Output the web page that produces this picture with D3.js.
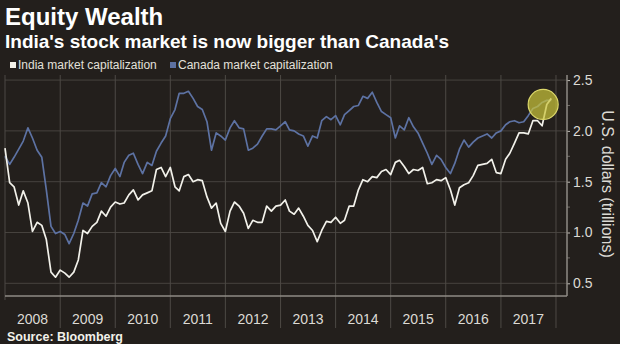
<!DOCTYPE html>
<html>
<head>
<meta charset="utf-8">
<script src="https://cdn.jsdelivr.net/npm/d3@7"></script>
<style>
  body { margin: 0; background: #231f1c; }
  svg { display: block; font-family: "Liberation Sans", Arial, sans-serif; }
</style>
</head>
<body>
<svg id="chart" width="620" height="344"></svg>
<script>
// monthly market cap, trillions of US dollars, Jan 2008 - Dec 2017
var years = [2008, 2009, 2010, 2011, 2012, 2013, 2014, 2015, 2016, 2017];
var india = [
  1.83, 1.49, 1.45, 1.27, 1.41, 1.29, 1.01, 1.10, 1.07, 0.93, 0.61, 0.56,
  0.63, 0.60, 0.56, 0.61, 0.73, 1.02, 0.99, 1.06, 1.10, 1.21, 1.16, 1.25,
  1.30, 1.28, 1.29, 1.37, 1.42, 1.32, 1.37, 1.39, 1.41, 1.62, 1.64, 1.55,
  1.64, 1.45, 1.41, 1.55, 1.57, 1.50, 1.52, 1.51, 1.35, 1.24, 1.29, 1.09,
  1.01, 1.21, 1.30, 1.26, 1.19, 1.04, 1.12, 1.10, 1.10, 1.26, 1.21, 1.26,
  1.27, 1.32, 1.21, 1.18, 1.24, 1.16, 1.07, 1.02, 0.91, 1.02, 1.11, 1.10,
  1.15, 1.09, 1.12, 1.26, 1.26, 1.42, 1.52, 1.50, 1.55, 1.54, 1.60, 1.62,
  1.57, 1.69, 1.71, 1.65, 1.58, 1.62, 1.61, 1.64, 1.48, 1.49, 1.52, 1.51,
  1.54, 1.42, 1.27, 1.44, 1.47, 1.49, 1.56, 1.66, 1.67, 1.68, 1.72, 1.59,
  1.58, 1.72, 1.78, 1.88, 1.98, 1.98, 1.97, 2.10, 2.10, 2.05, 2.26, 2.32
];
var canada = [
  1.75, 1.67, 1.74, 1.82, 1.90, 2.03, 1.93, 1.81, 1.74, 1.42, 1.06, 0.99,
  1.01, 0.98, 0.89, 0.99, 1.12, 1.29, 1.26, 1.38, 1.39, 1.49, 1.45, 1.56,
  1.63, 1.55, 1.69, 1.76, 1.78, 1.67, 1.58, 1.69, 1.66, 1.80, 1.88, 1.95,
  2.12, 2.21, 2.37, 2.37, 2.39, 2.32, 2.24, 2.21, 2.09, 1.81, 1.98, 1.95,
  1.91, 2.03, 2.10, 2.03, 2.02, 1.81, 1.83, 1.87, 1.95, 2.02, 2.02, 2.01,
  2.05, 2.09, 2.01, 2.00, 1.97, 1.95, 1.85, 1.95, 1.93, 2.10, 2.14, 2.11,
  2.15, 2.06, 2.16, 2.20, 2.24, 2.25, 2.34, 2.32, 2.38, 2.28, 2.19, 2.16,
  2.13, 1.93, 2.05, 2.01, 2.13, 2.04, 1.98, 1.88, 1.78, 1.67, 1.76, 1.72,
  1.64, 1.58, 1.68, 1.82, 1.91, 1.84, 1.89, 1.93, 1.95, 1.97, 1.93, 1.98,
  2.00, 2.06, 2.09, 2.10, 2.08, 2.09, 2.15, 2.22, 2.24, 2.28, 2.30, 2.30
];
var yTicks = [0.5, 1.0, 1.5, 2.0, 2.5];
var yMinorTicks = [0.75, 1.25, 1.75, 2.25];
var highlight = {date: new Date(2017, 9, 8), value: 2.26, r: 15};

var start = new Date(2008, 0, 1);
var dates = india.map(function(d, i) { return d3.timeMonth.offset(start, i); });

var svg = d3.select("#chart");
var margin = {top: 75, right: 53, bottom: 48, left: 5},
    width = 620 - margin.left - margin.right,
    height = 344 - margin.top - margin.bottom,
    g = svg.append("g").attr("transform", "translate(" + margin.left + "," + margin.top + ")");

var x = d3.scaleTime()
  .domain([new Date(2008, 0, 1), new Date(2018, 2, 15)])
  .range([0, width]);

var y = d3.scaleLinear()
  .domain([0.375, 2.55])
  .range([height, 0]);

// titles
svg.append("text")
  .attr("x", 5).attr("y", 25)
  .attr("font-size", 24).attr("font-weight", "bold")
  .attr("fill", "#ffffff")
  .text("Equity Wealth");
svg.append("text")
  .attr("x", 5).attr("y", 48)
  .attr("font-size", 19).attr("font-weight", "bold")
  .attr("fill", "#ffffff")
  .text("India's stock market is now bigger than Canada's");

// legend
var legendItems = [
  {name: "India market capitalization", color: "#f2f1ea", x: 10},
  {name: "Canada market capitalization", color: "#5d72a3", x: 170}
];
var legend = svg.selectAll(".legend")
  .data(legendItems)
  .enter().append("g")
    .attr("class", "legend")
    .attr("transform", function(d) { return "translate(" + d.x + ",62)"; });
legend.append("rect")
  .attr("width", 6).attr("height", 6)
  .attr("fill", function(d) { return d.color; });
legend.append("text")
  .attr("x", 8).attr("y", 7)
  .attr("font-size", 12)
  .attr("fill", "#e2e0da")
  .text(function(d) { return d.name; });

// grid
g.selectAll(".hgrid")
  .data(yTicks)
  .enter().append("line")
    .attr("class", "hgrid")
    .attr("x1", 0).attr("x2", width)
    .attr("y1", function(d) { return y(d); })
    .attr("y2", function(d) { return y(d); })
    .attr("stroke", "#47433f").attr("stroke-width", 1);

var yearEdges = years.concat([2018]).map(function(d) { return new Date(d, 0, 1); });
g.selectAll(".vgrid")
  .data(yearEdges)
  .enter().append("line")
    .attr("class", "vgrid")
    .attr("x1", function(d) { return x(d); })
    .attr("x2", function(d) { return x(d); })
    .attr("y1", 0)
    .attr("y2", function(d, i) { return i == 0 ? height + 4 : height + 32; })
    .attr("stroke", "#4d4945").attr("stroke-width", 1);

// x axis line + year labels
g.append("line")
  .attr("x1", 0).attr("x2", width)
  .attr("y1", height).attr("y2", height)
  .attr("stroke", "#8f8b85").attr("stroke-width", 1.5);

g.selectAll(".year")
  .data(years)
  .enter().append("text")
    .attr("class", "year")
    .attr("x", function(d) { return x(new Date(d, 6, 2)); })
    .attr("y", height + 28)
    .attr("text-anchor", "middle")
    .attr("font-size", 14)
    .attr("fill", "#dcdad4")
    .text(function(d) { return d; });

// right axis
var yAxis = g.append("g")
  .attr("transform", "translate(" + width + ",0)")
  .call(d3.axisRight(y).tickValues(yTicks).tickSize(3).tickPadding(3)
    .tickFormat(d3.format(".1f")));
yAxis.select(".domain").remove();
yAxis.selectAll(".tick line").attr("stroke", "#bdbab4");
yAxis.selectAll(".tick text")
  .attr("font-size", 14)
  .attr("font-family", "Liberation Sans, Arial, sans-serif")
  .attr("fill", "#dcdad4");
yAxis.selectAll(".minor")
  .data(yMinorTicks)
  .enter().append("line")
    .attr("class", "minor")
    .attr("x1", 0).attr("x2", 3)
    .attr("y1", function(d) { return y(d); })
    .attr("y2", function(d) { return y(d); })
    .attr("stroke", "#6e6a65");
yAxis.append("line")
  .attr("x1", 0).attr("x2", 0)
  .attr("y1", 0).attr("y2", height)
  .attr("stroke", "#8f8b85").attr("stroke-width", 1.5);

svg.append("text")
  .attr("transform", "translate(602,184) rotate(90)")
  .attr("text-anchor", "middle")
  .attr("font-size", 16)
  .attr("fill", "#dcdad4")
  .text("U.S. dollars (trillions)");

// lines
var line = d3.line()
  .x(function(d, i) { return x(dates[i]); })
  .y(function(d) { return y(d); });

g.append("path")
  .datum(canada)
  .attr("fill", "none")
  .attr("stroke", "#5d72a3")
  .attr("stroke-width", 1.7)
  .attr("stroke-linejoin", "round")
  .attr("d", line);

g.append("path")
  .datum(india)
  .attr("fill", "none")
  .attr("stroke", "#f2f1ea")
  .attr("stroke-width", 1.7)
  .attr("stroke-linejoin", "round")
  .attr("d", line);

g.append("circle")
  .attr("cx", x(highlight.date))
  .attr("cy", y(highlight.value))
  .attr("r", highlight.r)
  .attr("fill", "#c9c43a")
  .attr("fill-opacity", 0.72)
  .attr("stroke", "#dcd86a")
  .attr("stroke-width", 1.2);

// source
svg.append("text")
  .attr("x", 7).attr("y", 341)
  .attr("font-size", 12.5).attr("font-weight", "bold")
  .attr("fill", "#f2f1ea")
  .text("Source: Bloomberg");
</script>
</body>
</html>
